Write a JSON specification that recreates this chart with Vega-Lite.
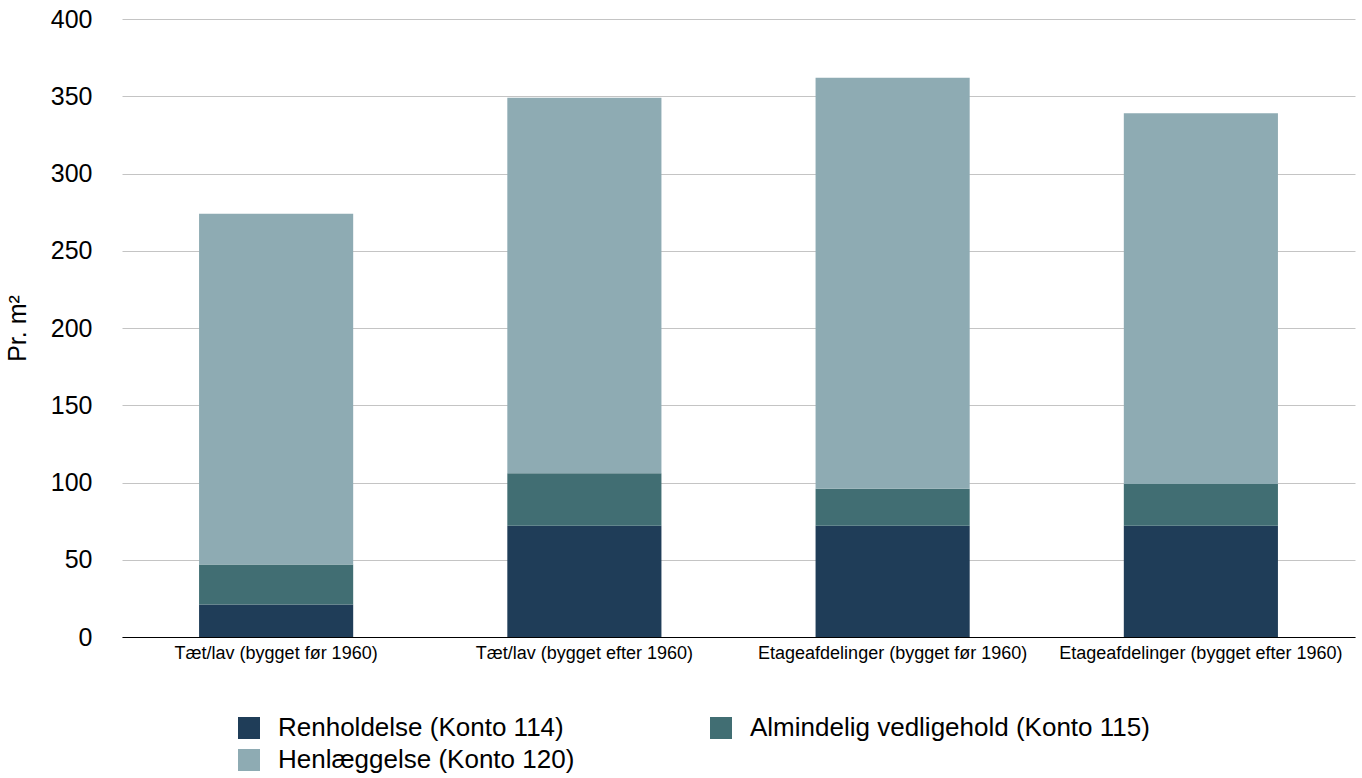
{
  "$schema": "https://vega.github.io/schema/vega-lite/v6.json",
  "width": 1233,
  "height": 618,
  "autosize": {"type": "none"},
  "padding": {"left": 122, "top": 19, "right": 7, "bottom": 141},
  "background": "white",
  "config": {
    "font": "Liberation Sans",
    "view": {"stroke": null}
  },
  "data": {
    "values": [
      {"kategori": "Tæt/lav (bygget før 1960)", "serie": "Renholdelse (Konto 114)", "orden": 1, "vaerdi": 21},
      {"kategori": "Tæt/lav (bygget før 1960)", "serie": "Almindelig vedligehold (Konto 115)", "orden": 2, "vaerdi": 26},
      {"kategori": "Tæt/lav (bygget før 1960)", "serie": "Henlæggelse (Konto 120)", "orden": 3, "vaerdi": 227},
      {"kategori": "Tæt/lav (bygget efter 1960)", "serie": "Renholdelse (Konto 114)", "orden": 1, "vaerdi": 72},
      {"kategori": "Tæt/lav (bygget efter 1960)", "serie": "Almindelig vedligehold (Konto 115)", "orden": 2, "vaerdi": 34},
      {"kategori": "Tæt/lav (bygget efter 1960)", "serie": "Henlæggelse (Konto 120)", "orden": 3, "vaerdi": 243},
      {"kategori": "Etageafdelinger (bygget før 1960)", "serie": "Renholdelse (Konto 114)", "orden": 1, "vaerdi": 72},
      {"kategori": "Etageafdelinger (bygget før 1960)", "serie": "Almindelig vedligehold (Konto 115)", "orden": 2, "vaerdi": 24},
      {"kategori": "Etageafdelinger (bygget før 1960)", "serie": "Henlæggelse (Konto 120)", "orden": 3, "vaerdi": 266},
      {"kategori": "Etageafdelinger (bygget efter 1960)", "serie": "Renholdelse (Konto 114)", "orden": 1, "vaerdi": 72},
      {"kategori": "Etageafdelinger (bygget efter 1960)", "serie": "Almindelig vedligehold (Konto 115)", "orden": 2, "vaerdi": 27},
      {"kategori": "Etageafdelinger (bygget efter 1960)", "serie": "Henlæggelse (Konto 120)", "orden": 3, "vaerdi": 240}
    ]
  },
  "mark": {"type": "bar"},
  "encoding": {
    "x": {
      "field": "kategori",
      "type": "nominal",
      "sort": null,
      "scale": {"paddingInner": 0.5, "paddingOuter": 0.25},
      "axis": {
        "title": null,
        "labelAngle": 0,
        "labelFontSize": 18,
        "labelColor": "#000000",
        "labelPadding": 7,
        "ticks": false,
        "domainColor": "#000000",
        "domainWidth": 1,
        "labelLimit": 400
      }
    },
    "y": {
      "field": "vaerdi",
      "type": "quantitative",
      "stack": "zero",
      "scale": {"domain": [0, 400], "nice": false},
      "axis": {
        "title": "Pr. m²",
        "titleFontSize": 25,
        "titleFontWeight": "normal",
        "titleColor": "#000000",
        "titlePadding": 20,
        "values": [0, 50, 100, 150, 200, 250, 300, 350, 400],
        "labelFontSize": 25,
        "labelColor": "#000000",
        "labelPadding": 30,
        "ticks": false,
        "domain": false,
        "gridColor": "#c4c4c4",
        "gridWidth": 1
      }
    },
    "color": {
      "field": "serie",
      "type": "nominal",
      "sort": ["Renholdelse (Konto 114)", "Almindelig vedligehold (Konto 115)", "Henlæggelse (Konto 120)"],
      "scale": {
        "domain": ["Renholdelse (Konto 114)", "Almindelig vedligehold (Konto 115)", "Henlæggelse (Konto 120)"],
        "range": ["#1f3d58", "#416e73", "#8eabb3"]
      },
      "legend": {
        "title": null,
        "orient": "none",
        "legendX": 114,
        "legendY": 696,
        "direction": "horizontal",
        "columns": 2,
        "columnPadding": 133,
        "rowPadding": 6,
        "symbolType": "square",
        "symbolSize": 484,
        "symbolStrokeWidth": 0,
        "labelFontSize": 26,
        "labelColor": "#000000",
        "labelOffset": 16,
        "labelLimit": 600
      }
    },
    "order": {"field": "orden", "type": "quantitative"}
  }
}
